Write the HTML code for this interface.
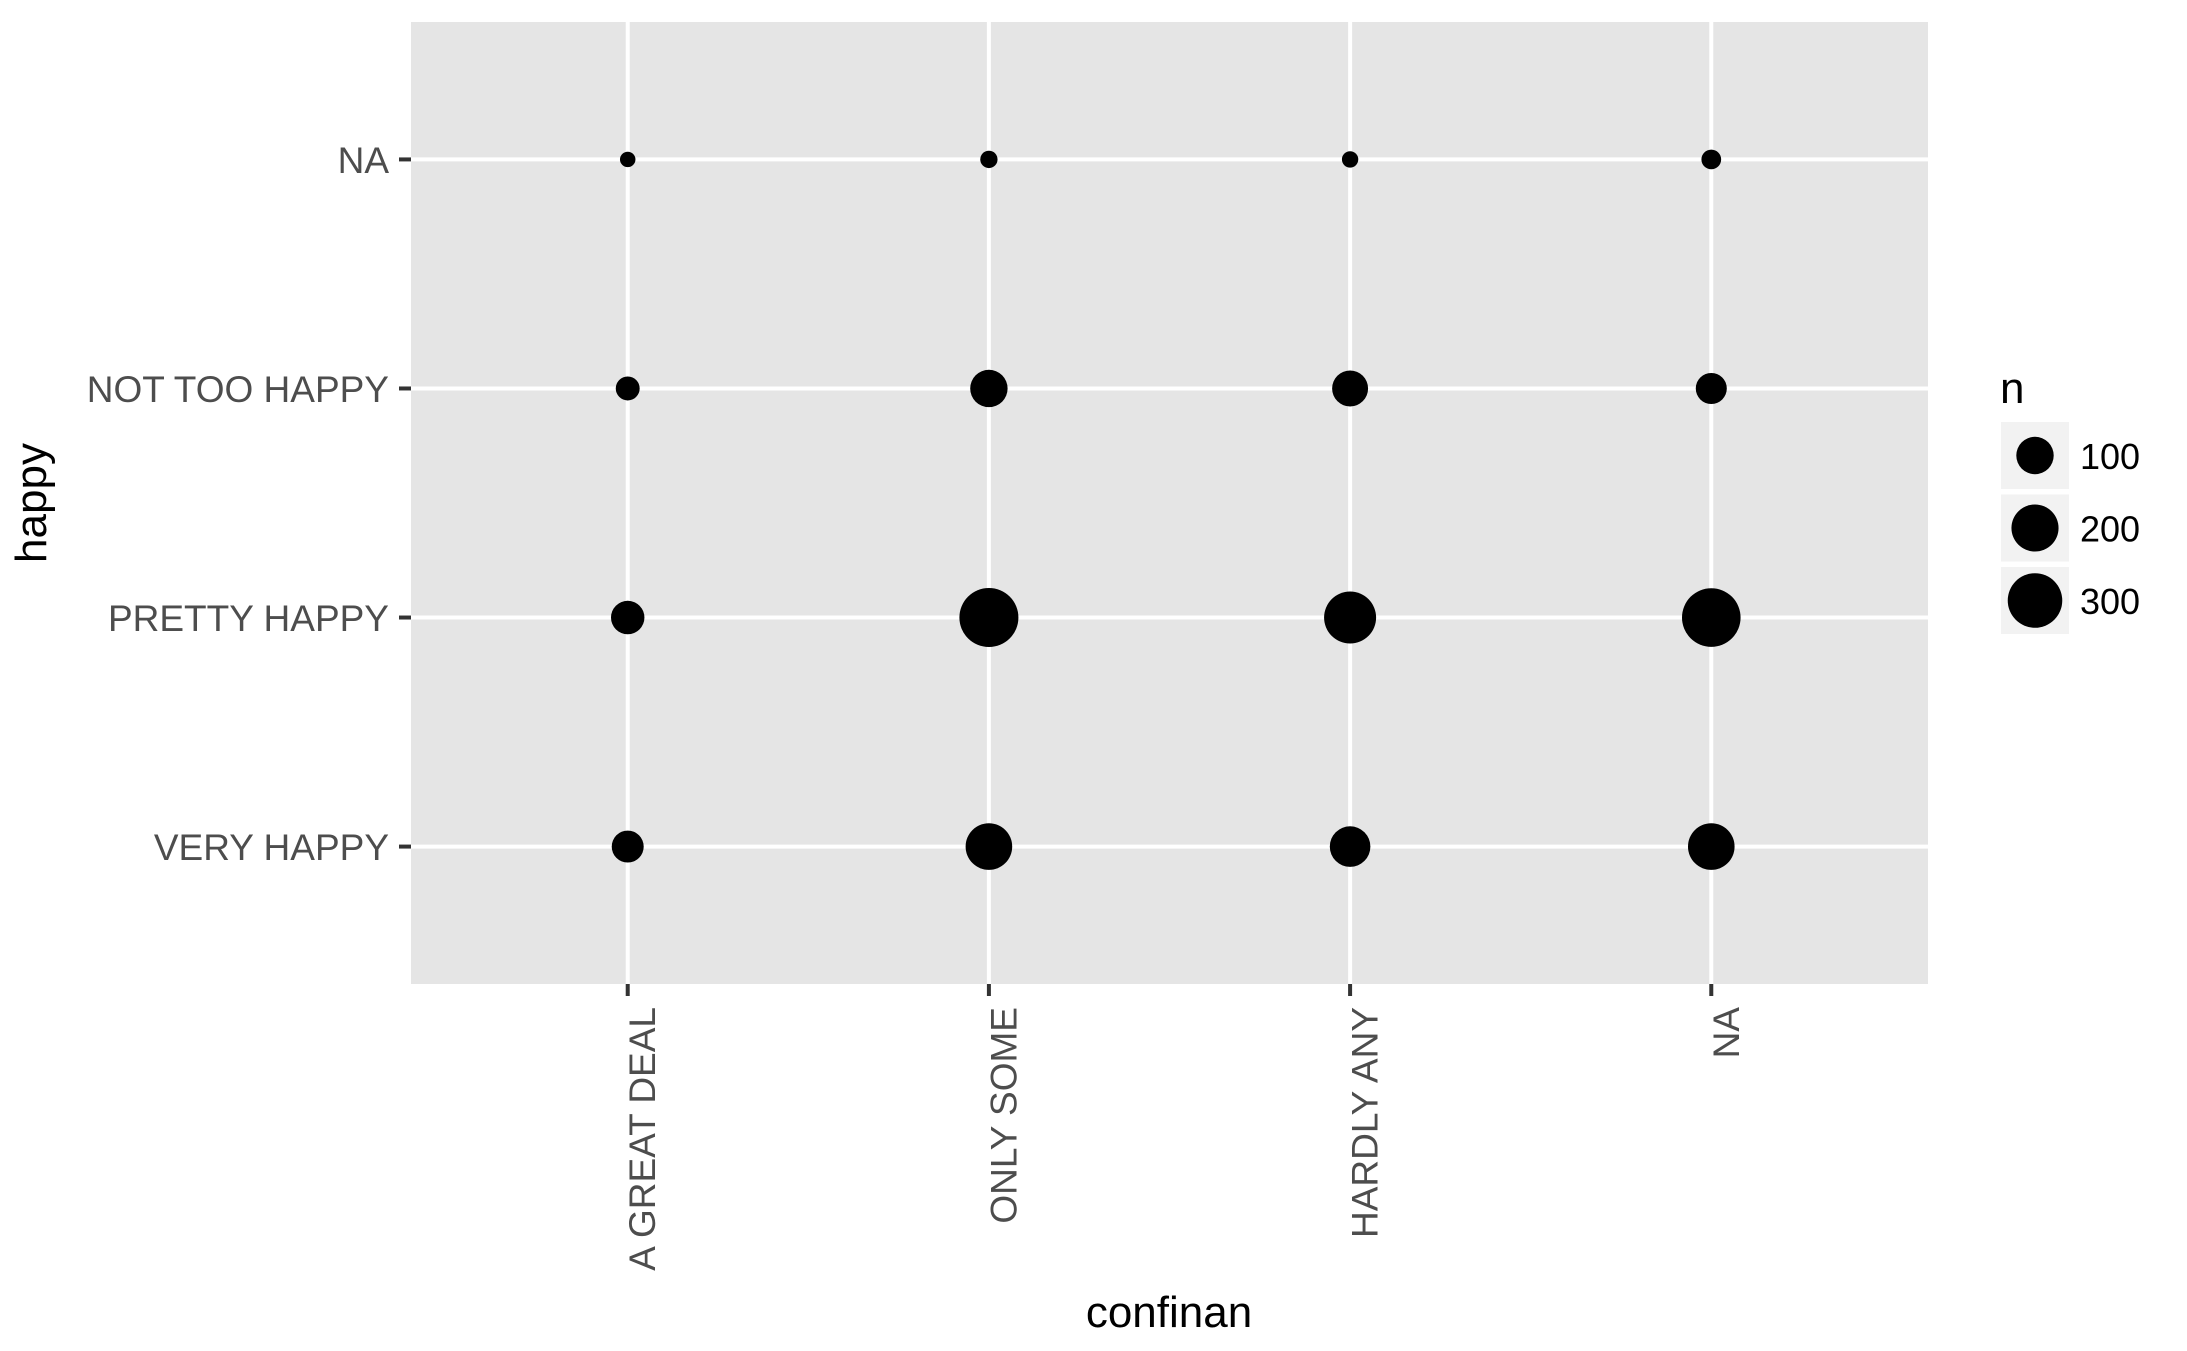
<!DOCTYPE html>
<html><head><meta charset="utf-8"><style>
html,body{margin:0;padding:0;background:#fff;}
svg{display:block;font-family:"Liberation Sans",sans-serif;}
</style></head><body>
<svg id="chart" width="2187" height="1351" viewBox="0 0 2187 1351">
<rect x="411" y="22" width="1517" height="962" fill="#E5E5E5"/>
<g id="grid"></g>
<g id="points"></g>
<g id="axes"></g>
<text x="46" y="503" font-size="44" text-anchor="middle" transform="rotate(-90 46 503)" fill="#000">happy</text>
<text x="1169" y="1327" font-size="44" text-anchor="middle" fill="#000">confinan</text>
<g id="legend">
<text x="2000" y="403" font-size="44" fill="#000">n</text>
</g>
</svg>
<script>
const xCategories = ["A GREAT DEAL","ONLY SOME","HARDLY ANY","NA"];
const yCategories = ["VERY HAPPY","PRETTY HAPPY","NOT TOO HAPPY","NA"];
// counts per x category, ordered like yCategories
const countsGreatDeal = [59, 69, 18, 0.4];
const countsOnlySome  = [194, 370, 100, 2];
const countsHardlyAny = [129, 264, 88, 1];
const countsNA        = [194, 363, 53, 6];
const legendValues = [100, 200, 300];

const series = [countsGreatDeal, countsOnlySome, countsHardlyAny, countsNA];
const NS = "http://www.w3.org/2000/svg";
const PL = 411, PR = 1928, PT = 22, PB = 984;
function xPos(i){ const n = xCategories.length; return PL + (PR-PL)*(i+0.6)/(n-1+1.2); }
function yPos(j){ const n = yCategories.length; return PB - (PB-PT)*(j+0.6)/(n-1+1.2); }
function rScale(v){ return 7 + 1.17*Math.sqrt(Math.max(v,0)); }
function mk(tag, attrs, parent){ const e = document.createElementNS(NS, tag); for (const k in attrs) e.setAttribute(k, attrs[k]); parent.appendChild(e); return e; }

const grid = document.getElementById('grid');
const axes = document.getElementById('axes');
const pts = document.getElementById('points');

yCategories.forEach((c, j) => {
  const y = yPos(j);
  const l = mk('line', {x1: PL, x2: PR, y1: y, y2: y, stroke: '#fff', 'stroke-width': 4}, grid);
  
  
  const t = mk('line', {x1: 399, x2: 411, y1: y, y2: y, stroke: '#333', 'stroke-width': 4}, axes);
  
  
  const tx = mk('text', {x: 389, y: y + 13.5, 'font-size': 37, 'text-anchor': 'end', fill: '#4d4d4d'}, axes);
  tx.textContent = c;
  
  
});
xCategories.forEach((c, i) => {
  const x = xPos(i);
  const l = mk('line', {x1: x, x2: x, y1: PT, y2: PB, stroke: '#fff', 'stroke-width': 4}, grid);
  
  
  const t = mk('line', {x1: x, x2: x, y1: PB, y2: PB + 12, stroke: '#333', 'stroke-width': 4}, axes);
  
  
  const bx = x + 27.5, by = 1007;
  const tx = mk('text', {x: bx, y: by, 'font-size': 37, 'text-anchor': 'end', fill: '#4d4d4d', transform: `rotate(-90 ${bx} ${by})`}, axes);
  tx.textContent = c;
  
  
});
series.forEach((vals, i) => {
  vals.forEach((v, j) => {
    const c = mk('circle', {cx: xPos(i), cy: yPos(j), r: rScale(v), fill: '#000'}, pts);
    
    
  });
});
const leg = document.getElementById('legend');
legendValues.forEach((v, k) => {
  const top = 422 + k*72.5;
  const bg = mk('rect', {x: 2001, y: top, width: 68, height: 67, fill: '#F2F2F2'}, leg);
  
  
  const c = mk('circle', {cx: 2035, cy: top + 33.5, r: rScale(v), fill: '#000'}, leg);
  
  
  const t = mk('text', {x: 2080, y: top + 47, 'font-size': 36, fill: '#000'}, leg);
  t.textContent = String(v);
  
  
});
</script>
</body></html>
